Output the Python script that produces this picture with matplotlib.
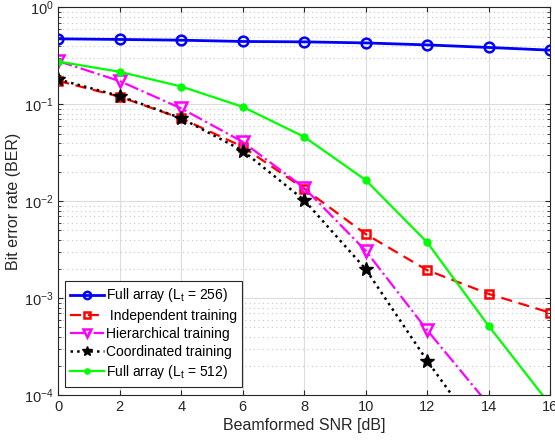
import numpy as np
import matplotlib
matplotlib.use("Agg")
import matplotlib.pyplot as plt

plt.rcParams['font.family'] = ['Liberation Sans', 'DejaVu Sans']
plt.rcParams['mathtext.fontset'] = 'custom'
plt.rcParams['mathtext.rm'] = 'Liberation Sans'
plt.rcParams['mathtext.it'] = 'Liberation Sans'

snr = [0, 2, 4, 6, 8, 10, 12, 14, 16]
full256 = [0.475, 0.468, 0.460, 0.446, 0.442, 0.431, 0.411, 0.387, 0.363]
indep = [0.175, 0.120, 0.0717, 0.0366, 0.0135, 0.0046, 0.00195, 0.00111, 0.00071]
hier = [0.28, 0.174, 0.091, 0.0411, 0.0138, 0.0031, 0.00047, 0.00008]
coord = [0.181, 0.122, 0.072, 0.0333, 0.0103, 0.0020, 0.000227, 0.00003]
full512 = [0.277, 0.217, 0.153, 0.0945, 0.0463, 0.0166, 0.00378, 0.00052, 0.00008]

fig = plt.figure(figsize=(5.55, 4.41), dpi=100)
ax = fig.add_axes([0.105, 0.104, 0.886, 0.879])

ax.plot(snr, full256, '-o', color='#0000ff', lw=2, ms=7, mfc='none', mew=1.8,
        label='Full array (L$_t$ = 256)')
ax.plot(snr, indep, '--s', color='#ff0000', lw=1.6, ms=5.5, mfc='none', mew=1.8,
        dashes=(5, 3), label=' Independent training')
ax.plot(snr[:len(hier)], hier, '-.v', color='#ff00ff', lw=1.6, ms=8, mfc='none', mew=1.8,
        label='Hierarchical training')
ax.plot(snr[:len(coord)], coord, ':*', color='black', lw=1.8, ms=10,
        label='Coordinated training')
ax.plot(snr, full512, '-o', color='#00ff00', lw=1.6, ms=5, label='Full array (L$_t$ = 512)')

ax.set_yscale('log')
ax.set_xlim(0, 16)
ax.set_ylim(1e-4, 1)
ax.set_xticks(snr)
ax.set_xlabel('Beamformed SNR [dB]', fontsize=11.5, color='#262626', labelpad=3)
ax.set_ylabel('Bit error rate (BER)', fontsize=11.5, color='#262626', labelpad=2)

ax.grid(True, which='major', color='#dcdcdc', lw=0.8, ls='-')
ax.grid(True, which='minor', axis='y', color='#c8c8c8', lw=0.8, ls=(0, (1, 3)))
ax.tick_params(which='both', direction='in', top=True, right=True, labelsize=10.5,
               colors='#262626')
for s in ax.spines.values():
    s.set_color('#262626')

leg = ax.legend(loc='lower left', bbox_to_anchor=(0.013, 0.022), fontsize=10,
                fancybox=False, edgecolor='#262626', framealpha=1, markerscale=0.75,
                handlelength=2.4, handletextpad=0.15, borderpad=0.4, labelspacing=0.3,
                borderaxespad=0)
leg.get_frame().set_linewidth(0.8)

fig.savefig('out.png', dpi=100)
